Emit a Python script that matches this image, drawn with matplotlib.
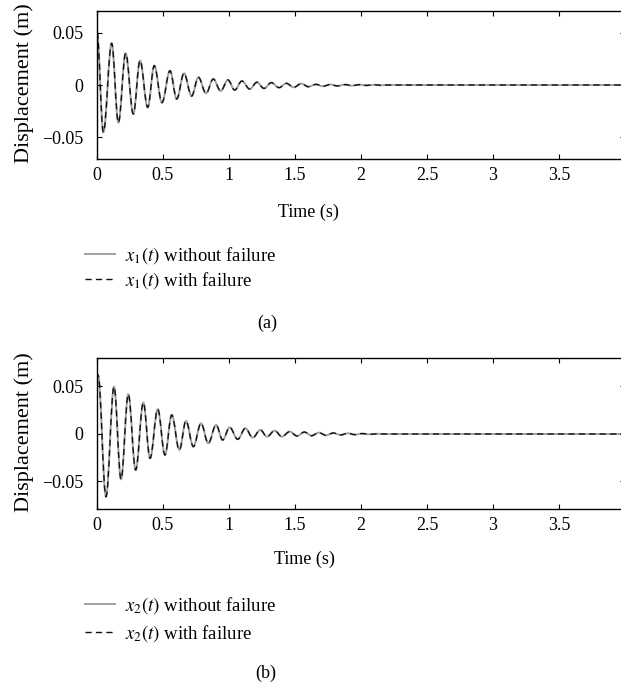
import matplotlib
matplotlib.use("Agg")
import matplotlib.pyplot as plt
from matplotlib.lines import Line2D
from matplotlib.path import Path
from matplotlib.patches import PathPatch

plt.rcParams['font.family'] = ['Liberation Serif', 'DejaVu Serif']
plt.rcParams['mathtext.fontset'] = 'stix'

# Panel (a): extrema of x1(t)
t_a = [0.000, 0.048, 0.111, 0.162, 0.217, 0.275, 0.326, 0.384, 0.434, 0.492,
       0.553, 0.604, 0.659, 0.717, 0.768, 0.826, 0.881, 0.937, 0.992, 1.043,
       1.098, 1.157, 1.212, 1.265, 1.321, 1.379, 1.434, 1.490, 1.548, 1.600,
       1.660, 1.710, 1.770, 1.820, 1.880, 1.930, 1.990, 2.040, 2.100, 2.150,
       2.200, 4.000]
x1 = [0.0500, -0.0450, 0.0397, -0.0359, 0.0302, -0.0276, 0.0232, -0.0213, 0.0184, -0.0168,
      0.0136, -0.0133, 0.0111, -0.0105, 0.0073, -0.0079, 0.0057, -0.0057, 0.0048, -0.0048,
      0.0038, -0.0038, 0.0026, -0.0032, 0.0022, -0.0025, 0.0016, -0.0022, 0.0013, -0.0016,
      0.0006, -0.0012, 0.0005, -0.0009, 0.0004, -0.0006, 0.0003, -0.0004, 0.0002, -0.0002,
      0.0000, 0.0000]

# Panel (b): extrema of x2(t)
t_b = [0.000, 0.008, 0.068, 0.129, 0.182, 0.237, 0.293, 0.351, 0.402, 0.460,
       0.515, 0.566, 0.624, 0.674, 0.730, 0.788, 0.843, 0.902, 0.952, 1.005,
       1.066, 1.124, 1.180, 1.237, 1.288, 1.346, 1.401, 1.460, 1.515, 1.571,
       1.626, 1.680, 1.735, 1.790, 1.845, 1.900, 1.955, 2.010, 2.065, 2.120,
       2.170, 4.000]
x2 = [0.0580, 0.0620, -0.0660, 0.0498, -0.0477, 0.0418, -0.0379, 0.0330, -0.0256, 0.0260,
      -0.0221, 0.0200, -0.0168, 0.0137, -0.0133, 0.0112, -0.0098, 0.0095, -0.0063, 0.0070,
      -0.0056, 0.0060, -0.0039, 0.0042, -0.0028, 0.0035, -0.0028, 0.0025, -0.0021, 0.0020,
      -0.0018, 0.0014, -0.0014, 0.0010, -0.0010, 0.0007, -0.0007, 0.0004, -0.0004, 0.0002,
      0.0000, 0.0000]

x_ticks = [0, 0.5, 1, 1.5, 2, 2.5, 3, 3.5, 4]
x_ticklabels = ["0", "0.5", "1", "1.5", "2", "2.5", "3", "3.5", "4"]
y_ticks = [-0.05, 0, 0.05]
y_ticklabels = ["\u22120.05", "0", "0.05"]

labels_a = [r"$x_1(t)$ without failure", r"$x_1(t)$ with failure"]
labels_b = [r"$x_2(t)$ without failure", r"$x_2(t)$ with failure"]

W, H = 621, 685
fig = plt.figure(figsize=(W / 100, H / 100), dpi=100)


def px_axes(left, top, right, bottom):
    return fig.add_axes([left / W, 1 - bottom / H, (right - left) / W, (bottom - top) / H])


def style(ax, ylim):
    ax.set_xlim(0, 4)
    ax.set_ylim(*ylim)
    ax.set_xticks(x_ticks)
    ax.set_xticklabels(x_ticklabels)
    ax.set_yticks(y_ticks)
    ax.set_yticklabels(y_ticklabels)
    ax.tick_params(direction='in', top=True, right=True, length=3.6, width=0.8,
                   labelsize=13)
    ax.tick_params(axis='x', pad=6)
    ax.tick_params(axis='y', pad=10)
    for s in ax.spines.values():
        s.set_linewidth(1.0)


def smooth_path(t, v):
    # cubic Bezier segments between consecutive extrema, horizontal tangents at extrema
    verts = [(t[0], v[0])]
    codes = [Path.MOVETO]
    k = 0.364
    for i in range(len(t) - 1):
        dt = t[i + 1] - t[i]
        verts += [(t[i] + k * dt, v[i]), (t[i + 1] - k * dt, v[i + 1]), (t[i + 1], v[i + 1])]
        codes += [Path.CURVE4] * 3
    return Path(verts, codes)


solid_kw = dict(color='#a0a0a0', lw=1.4, ls='-')
dash_kw = dict(color='#111111', lw=1.0, ls=(0, (4.5, 3)))


def draw(ax, t, v):
    p = smooth_path(t, v)
    ax.add_patch(PathPatch(p, fill=False, edgecolor=solid_kw['color'], lw=solid_kw['lw']))
    ax.add_patch(PathPatch(p, fill=False, edgecolor=dash_kw['color'], lw=dash_kw['lw'],
                           ls=dash_kw['ls']))


ax1 = px_axes(97, 11, 625, 159)
draw(ax1, t_a, x1)
style(ax1, (-0.0705, 0.0705))

ax2 = px_axes(97, 358, 625, 509)
draw(ax2, t_b, x2)
style(ax2, (-0.079, 0.08))

# y labels
fig.text(24 / W, 1 - 83 / H, "Displacement (m)", rotation=90, ha='center', va='center', fontsize=16)
fig.text(24 / W, 1 - 432 / H, "Displacement (m)", rotation=90, ha='center', va='center', fontsize=16)

# x labels
fig.text(308 / W, 1 - 212 / H, "Time (s)", ha='center', va='center', fontsize=13)
fig.text(304 / W, 1 - 559 / H, "Time (s)", ha='center', va='center', fontsize=13)

# legends
h_solid = Line2D([], [], **solid_kw)
h_dash = Line2D([], [], **dash_kw)
fig.legend([h_solid, h_dash], labels_a, loc='center left', bbox_to_anchor=(85 / W, 1 - 268 / H),
           frameon=False, fontsize=13.5, handlelength=1.6, handletextpad=0.55,
           borderpad=0, borderaxespad=0, labelspacing=0.25)
fig.legend([h_solid, h_dash], labels_b, loc='center left', bbox_to_anchor=(85 / W, 1 - 619.5 / H),
           frameon=False, fontsize=13.5, handlelength=1.6, handletextpad=0.55,
           borderpad=0, borderaxespad=0, labelspacing=0.4)

# captions
fig.text(267 / W, 1 - 323 / H, "(a)", ha='center', va='center', fontsize=13)
fig.text(266 / W, 1 - 673 / H, "(b)", ha='center', va='center', fontsize=13)

fig.savefig("out.png", dpi=100)
